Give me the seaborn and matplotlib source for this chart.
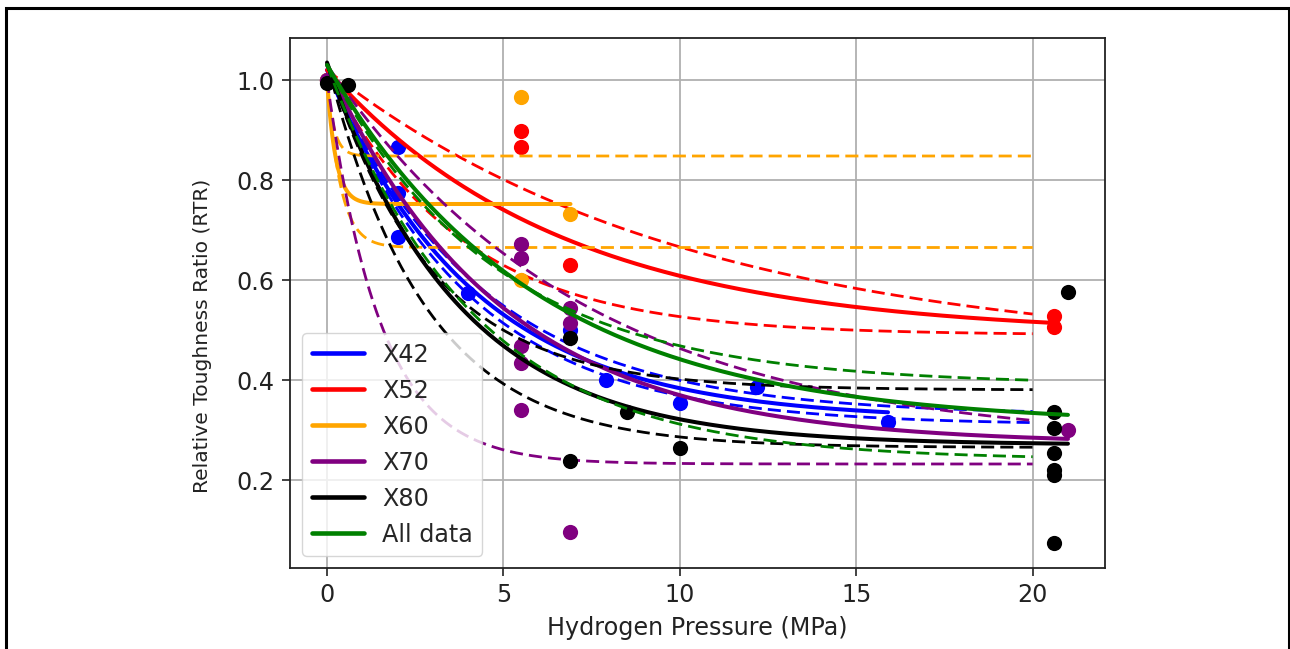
import numpy as np
import pandas as pd
import matplotlib
matplotlib.use("Agg")
import matplotlib.pyplot as plt
from matplotlib.patches import Rectangle
import seaborn as sns

# ---------------- data ----------------
GROUPS = ["X42", "X52", "X60", "X70", "X80", "All data"]
COLORS = ["blue", "red", "orange", "purple", "black", "green"]

# measured points (hydrogen pressure MPa, relative toughness ratio)
X42_P = [0.0, 2.0, 2.0, 2.0, 4.0, 6.9, 7.9, 10.0, 12.2, 15.9]
X42_RTR = [1.0, 0.866, 0.774, 0.686, 0.574, 0.50, 0.40, 0.354, 0.386, 0.316]

X52_P = [0.0, 5.5, 5.5, 6.9, 20.6, 20.6]
X52_RTR = [1.0, 0.898, 0.866, 0.63, 0.528, 0.506]

X60_P = [0.0, 5.5, 5.5, 6.9]
X60_RTR = [1.0, 0.966, 0.60, 0.732]

X70_P = [0.0, 5.5, 5.5, 5.5, 5.5, 5.5, 6.9, 6.9, 6.9, 21.0]
X70_RTR = [1.0, 0.672, 0.644, 0.468, 0.434, 0.34, 0.544, 0.514, 0.096, 0.30]

X80_P = [0.0, 0.6, 6.9, 6.9, 8.5, 10.0, 20.6, 20.6, 20.6, 20.6, 20.6, 20.6, 21.0]
X80_RTR = [0.995, 0.99, 0.484, 0.238, 0.336, 0.264, 0.336, 0.304, 0.254, 0.22,
           0.21, 0.074, 0.576]

# exponential-decay fit parameters: [start, asymptote, rate]
X42_FIT, X42_HI, X42_LO = [1.02, 0.32, 0.24], [1.02, 0.33, 0.23], [1.02, 0.31, 0.25]
X52_FIT, X52_HI, X52_LO = [1.02, 0.49, 0.15], [1.02, 0.45, 0.097], [1.02, 0.49, 0.267]
X60_FIT, X60_HI, X60_LO = [1.0, 0.752, 4.0], [1.0, 0.848, 5.0], [1.0, 0.665, 2.6]
X70_FIT, X70_HI, X70_LO = [1.03, 0.272, 0.205], [1.03, 0.27, 0.137], [1.0, 0.232, 0.66]
X80_FIT, X80_HI, X80_LO = [1.035, 0.27, 0.27], [1.035, 0.38, 0.34], [1.035, 0.265, 0.36]
ALL_FIT, ALL_HI, ALL_LO = [1.03, 0.31, 0.17], [1.03, 0.39, 0.21], [1.03, 0.24, 0.24]

FIT_END = [15.9, 20.6, 6.9, 21.0, 21.0, 21.0]   # solid fit drawn to last test pressure
BAND_END = 20.0                                  # dashed bounds drawn to 20 MPa

X_TICKS = [0, 5, 10, 15, 20]
Y_TICKS = [0.2, 0.4, 0.6, 0.8, 1.0]

points = [(X42_P, X42_RTR), (X52_P, X52_RTR), (X60_P, X60_RTR),
          (X70_P, X70_RTR), (X80_P, X80_RTR), None]
fits = [(X42_FIT, X42_HI, X42_LO), (X52_FIT, X52_HI, X52_LO),
        (X60_FIT, X60_HI, X60_LO), (X70_FIT, X70_HI, X70_LO),
        (X80_FIT, X80_HI, X80_LO), (ALL_FIT, ALL_HI, ALL_LO)]


def decay(x, p):
    y0, c, k = p
    return c + (y0 - c) * np.exp(-k * x)


# ---------------- figure ----------------
W, H = 1290, 649
sns.set_style("ticks")
plt.rcParams["font.family"] = ["DejaVu Sans"]
fig = plt.figure(figsize=(W / 100, H / 100), dpi=100)
ax = fig.add_axes([290 / W, 1 - 568 / H, (1105 - 290) / W, (568 - 38) / H])

FS = 17.2
YL_FS = 14.6
SOLID_LW = 2.9
DASH_LW = 2.0
DASH = (0, (4.7, 2.2))
TXT = "#222222"

for g, col, pts, (pf, phi, plo), xend in zip(GROUPS, COLORS, points, fits, FIT_END):
    if pts is not None:
        sns.scatterplot(x=pts[0], y=pts[1], color=col, s=120, linewidth=0,
                        ax=ax, zorder=3, legend=False)
    xs = np.linspace(0, xend, 400)
    sns.lineplot(x=xs, y=decay(xs, pf), color=col, lw=SOLID_LW, ax=ax,
                 label=g, zorder=3)
    xb = np.linspace(0, BAND_END, 400)
    for pb in (phi, plo):
        sns.lineplot(x=xb, y=decay(xb, pb), color=col, lw=DASH_LW, ax=ax,
                     zorder=3)
        ax.lines[-1].set_linestyle(DASH)

ax.set_xlim(-1.05, 22.05)
ax.set_ylim(0.024, 1.084)
ax.set_xticks(X_TICKS)
ax.set_yticks(Y_TICKS)
ax.set_xticklabels([str(t) for t in X_TICKS])
ax.set_yticklabels([f"{t:.1f}" for t in Y_TICKS])
ax.grid(True, color="#b0b0b0", lw=1.3)
ax.set_axisbelow(True)
for s in ax.spines.values():
    s.set_visible(True)
    s.set_color(TXT)
    s.set_linewidth(1.3)
ax.tick_params(axis="both", labelsize=FS, length=6, width=1.2, color=TXT,
               labelcolor=TXT, pad=5)
ax.set_xlabel("Hydrogen Pressure (MPa)", fontsize=FS, color=TXT, labelpad=6)
ax.set_ylabel("Relative Toughness Ratio (RTR)", fontsize=YL_FS, color=TXT)
ax.yaxis.set_label_coords(-0.096, 0.438)

leg = ax.legend(loc="lower left", fontsize=FS, handlelength=2.2, frameon=True,
                framealpha=0.8, fancybox=True, borderaxespad=0.5,
                labelspacing=0.5, handletextpad=0.75)
for lh in leg.get_lines():
    lh.set_linewidth(3.3)
    lh.set_linestyle("-")
leg.get_frame().set_edgecolor("#cccccc")

# outer frame of the reference figure
fig.patches.append(Rectangle((6 / W, -0.05), (1288.5 - 6) / W, 1.05 - 8 / H,
                             transform=fig.transFigure, fill=False,
                             ec="black", lw=2.2))

fig.savefig("out.png", dpi=100)
